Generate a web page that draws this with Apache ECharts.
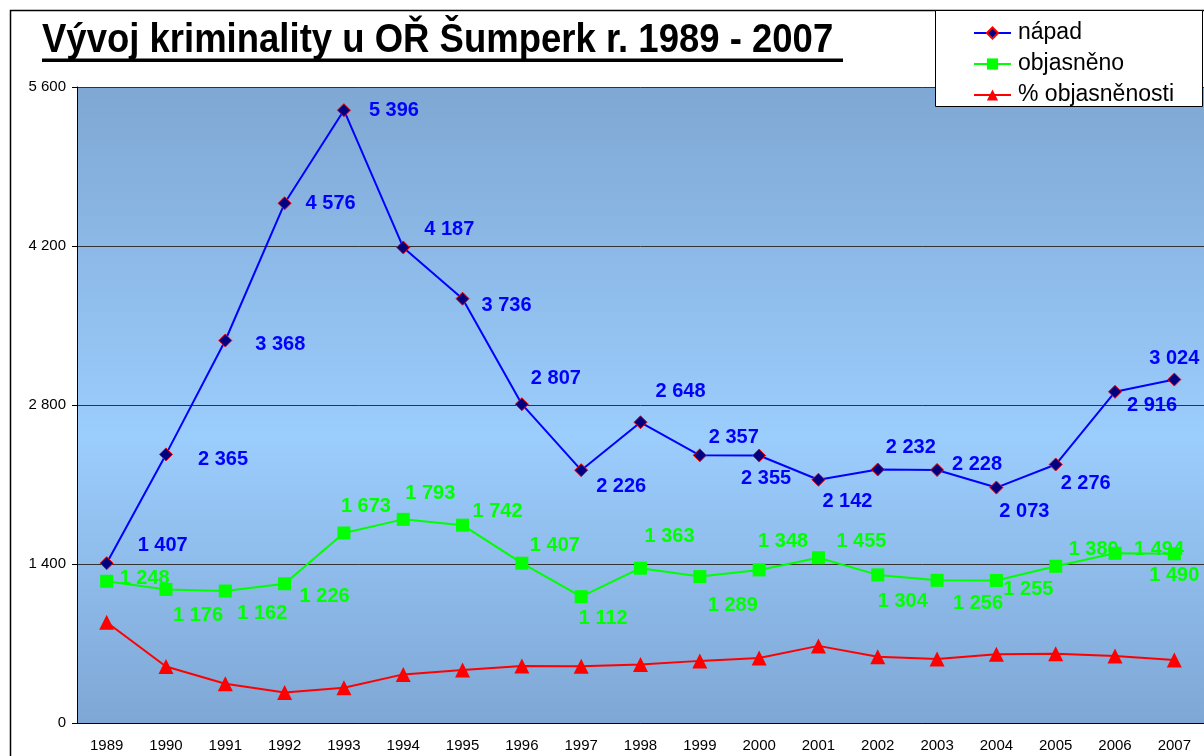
<!DOCTYPE html>
<html>
<head>
<meta charset="utf-8">
<script src="https://cdn.jsdelivr.net/npm/echarts@6/dist/echarts.min.js"></script>
<style>
  html, body { margin: 0; padding: 0; background: #fff; }
  #chart { width: 1204px; height: 756px; }
</style>
</head>
<body>
<div id="chart"></div>
<script>
const years = ['1989', '1990', '1991', '1992', '1993', '1994', '1995', '1996', '1997', '1998',
  '1999', '2000', '2001', '2002', '2003', '2004', '2005', '2006', '2007']
const napad = [1407, 2365, 3368, 4576, 5396, 4187, 3736, 2807, 2226, 2648,
  2357, 2355, 2142, 2232, 2228, 2073, 2276, 2916, 3024]
const objasneno = [1248, 1176, 1162, 1226, 1673, 1793, 1742, 1407, 1112, 1363,
  1289, 1348, 1455, 1304, 1256, 1255, 1380, 1494, 1490]
const procento = [88.7, 49.7, 34.5, 26.8, 31.0, 42.8, 46.6, 50.1, 50.0, 51.5,
  54.7, 57.2, 67.9, 58.4, 56.4, 60.5, 61.0, 59.0, 55.5]
const yTicks = [0, 1400, 2800, 4200, 5600]

// posun popisku vůči bodu [dx, dy]
const napadLabelPos = [[56, -18], [57, 5], [55, 4], [46, 0], [50, 0], [46, -18], [44, 7], [34, -26],
  [40, 16], [40, -31], [34, -18], [7, 23], [29, 22], [33, -22], [40, -5], [28, 24], [30, 19], [37, 14], [0, -21]]
const objasLabelPos = [[38, -3], [32, 26], [37, 22], [40, 13], [22, -27], [27, -26], [35, -14], [33, -18],
  [22, 22], [29, -32], [33, 29], [24, -28], [43, -16], [25, 27], [41, 23], [32, 9], [38, -17], [44, -4], [0, 22]]

const fmt = (v) => String(v).replace(/\B(?=(\d{3})+(?!\d))/g, ' ')

const withLabels = (values, pos) => values.map((v, i) => ({
  value: v,
  label: { offset: pos[i] },
}))

const chart = echarts.init(document.getElementById('chart'))

const option = {
  animation: false,
  textStyle: { fontFamily: 'Liberation Sans, Arial, sans-serif' },
  graphic: [
    {
      type: 'rect',
      shape: { x: 10.5, y: 10.5, width: 1400, height: 1000 },
      style: { fill: 'none', stroke: '#000', lineWidth: 1.5 },
      z: 1,
    },
    {
      type: 'text',
      x: 42,
      y: 20,
      scaleY: 1.11,
      style: {
        text: 'Vývoj kriminality u OŘ Šumperk r. 1989 - 2007',
        font: 'bold 36.5px "Liberation Sans", Arial, sans-serif',
        fill: '#000',
        verticalAlign: 'top',
      },
      z: 5,
    },
    {
      type: 'rect',
      shape: { x: 42, y: 58.5, width: 801, height: 3.5 },
      style: { fill: '#000' },
      z: 5,
    },
    {
      type: 'rect',
      shape: { x: 935.5, y: 10.5, width: 267, height: 96 },
      style: { fill: '#fff', stroke: '#000', lineWidth: 1 },
      z: 5,
    },
  ],
  legend: {
    orient: 'vertical',
    left: 968,
    top: 16,
    itemWidth: 37,
    itemHeight: 14,
    itemGap: 7,
    z: 6,
    textStyle: {
      fontSize: 23,
      lineHeight: 24,
      color: '#000',
      padding: [0, 0, 0, 2],
    },
    data: ['nápad', 'objasněno', '% objasněnosti'],
  },
  grid: {
    left: 77,
    right: -2,
    top: 87,
    bottom: 33,
    show: true,
    borderWidth: 0,
    backgroundColor: new echarts.graphic.LinearGradient(0, 0, 0, 1, [
      { offset: 0, color: '#7fa7d3' },
      { offset: 0.55, color: '#9bcdfd' },
      { offset: 1, color: '#7fa7d5' },
    ]),
  },
  xAxis: {
    type: 'category',
    data: years,
    boundaryGap: true,
    axisLine: { lineStyle: { color: '#000', width: 1 } },
    axisTick: { length: 5, lineStyle: { color: '#000' } },
    axisLabel: { color: '#000', fontSize: 15, margin: 15 },
  },
  yAxis: [
    {
      type: 'value',
      min: 0,
      max: 5600,
      interval: 1400,
      axisLine: { show: true, lineStyle: { color: '#000' } },
      axisTick: { show: true, length: 5, lineStyle: { color: '#000' } },
      axisLabel: {
        color: '#000',
        fontSize: 15,
        margin: 11,
        formatter: (v) => (yTicks.includes(v) ? fmt(v) : ''),
      },
      splitLine: { lineStyle: { color: '#333', width: 1 } },
    },
    {
      type: 'value',
      min: 0,
      max: 560,
      show: false,
      splitLine: { show: false },
    },
  ],
  series: [
    {
      name: 'nápad',
      type: 'line',
      data: withLabels(napad, napadLabelPos),
      symbol: 'diamond',
      symbolSize: 13,
      z: 4,
      lineStyle: { color: '#0000ff', width: 2 },
      itemStyle: { color: '#000080', borderColor: '#ff0000', borderWidth: 1 },
      label: {
        show: true,
        position: 'inside',
        color: '#0000ff',
        fontSize: 20,
        fontWeight: 'bold',
        formatter: (p) => fmt(p.value),
      },
    },
    {
      name: 'objasněno',
      type: 'line',
      data: withLabels(objasneno, objasLabelPos),
      symbol: 'rect',
      symbolSize: 13,
      z: 3,
      lineStyle: { color: '#00ff00', width: 2 },
      itemStyle: { color: '#00ff00' },
      label: {
        show: true,
        position: 'inside',
        color: '#00ff00',
        fontSize: 20,
        fontWeight: 'bold',
        formatter: (p) => fmt(p.value),
      },
    },
    {
      name: '% objasněnosti',
      type: 'line',
      yAxisIndex: 1,
      data: procento,
      symbol: 'triangle',
      symbolSize: 15,
      z: 2,
      lineStyle: { color: '#ff0000', width: 2 },
      itemStyle: { color: '#ff0000' },
    },
  ],
}

chart.setOption(option)
</script>
</body>
</html>
